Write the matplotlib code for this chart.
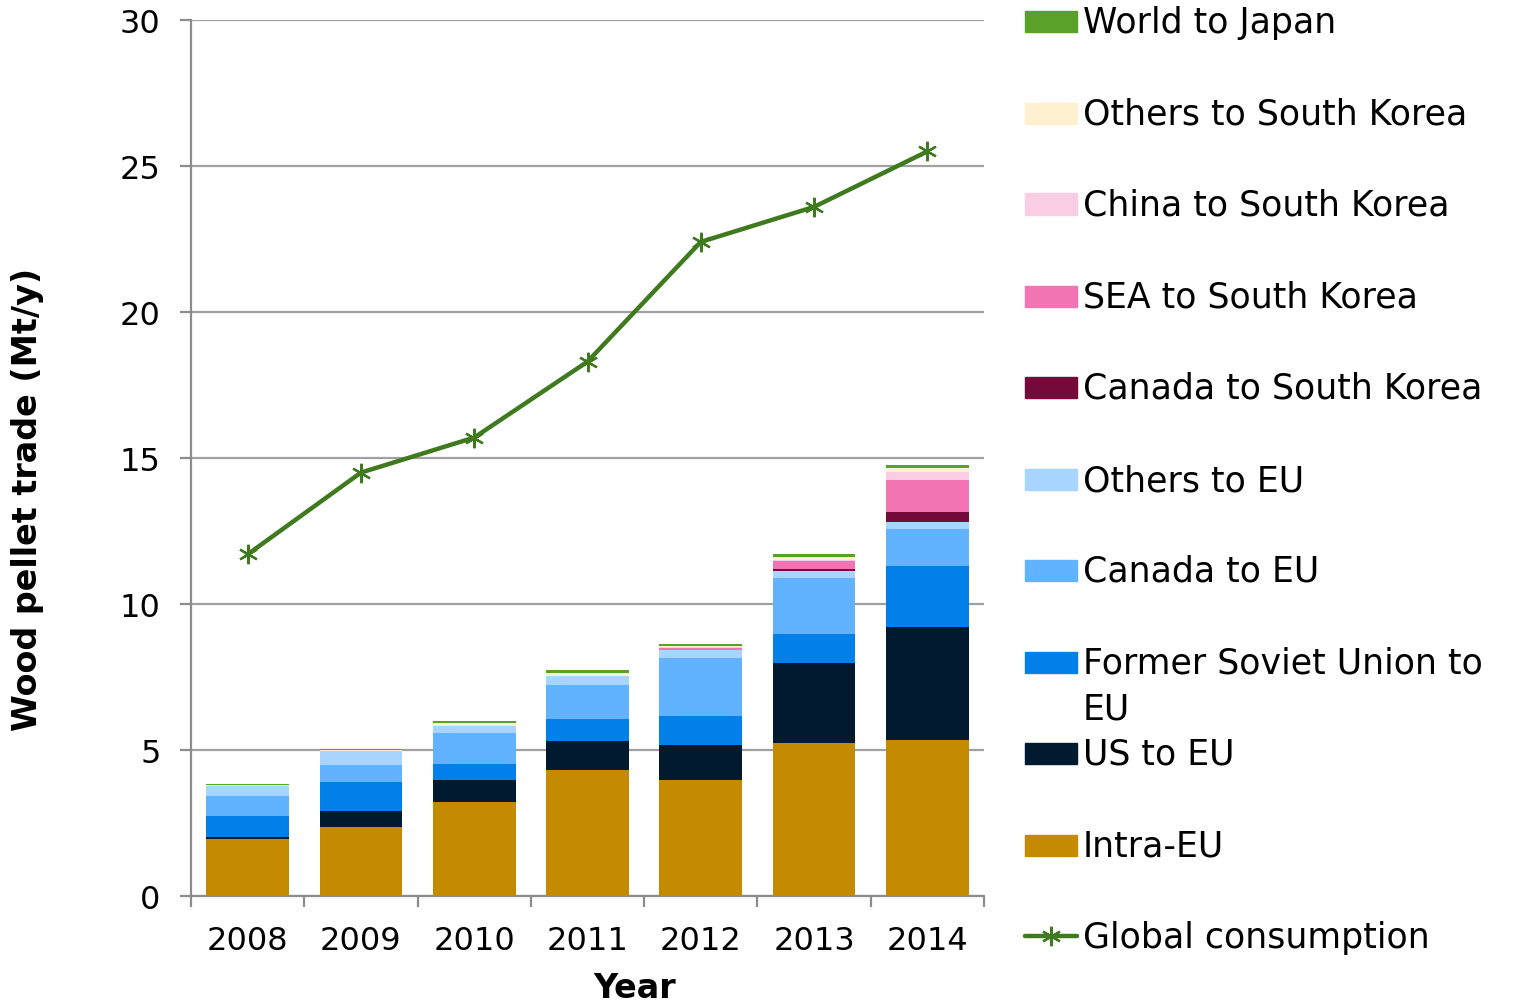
import matplotlib
matplotlib.use("Agg")
import matplotlib.pyplot as plt
from matplotlib.patches import Rectangle
from matplotlib.lines import Line2D
import numpy as np

plt.rcParams['font.family'] = ['DejaVu Sans']

years = ['2008', '2009', '2010', '2011', '2012', '2013', '2014']

intra_eu = [1.95, 2.36, 3.23, 4.32, 3.97, 5.24, 5.34]
us_eu = [0.08, 0.55, 0.75, 1.00, 1.20, 2.75, 3.88]
fsu_eu = [0.71, 1.00, 0.54, 0.74, 1.00, 0.99, 2.09]
canada_eu = [0.69, 0.58, 1.06, 1.15, 1.97, 1.91, 1.26]
others_eu = [0.34, 0.48, 0.24, 0.32, 0.28, 0.24, 0.25]
canada_sk = [0.0, 0.0, 0.0, 0.0, 0.01, 0.07, 0.34]
sea_sk = [0.0, 0.0, 0.0, 0.0, 0.08, 0.28, 1.09]
china_sk = [0.0, 0.0, 0.0, 0.0, 0.02, 0.02, 0.28]
others_sk = [0.03, 0.02, 0.10, 0.12, 0.03, 0.10, 0.13]
world_japan = [0.04, 0.04, 0.09, 0.10, 0.08, 0.12, 0.10]
global_consumption = [11.7, 14.5, 15.7, 18.3, 22.4, 23.6, 25.5]

series = [
    ('Intra-EU', intra_eu, '#C48B00'),
    ('US to EU', us_eu, '#021A30'),
    ('Former Soviet Union to\nEU', fsu_eu, '#0080E8'),
    ('Canada to EU', canada_eu, '#62B3FF'),
    ('Others to EU', others_eu, '#A8D5FF'),
    ('Canada to South Korea', canada_sk, '#740A3A'),
    ('SEA to South Korea', sea_sk, '#F374B2'),
    ('China to South Korea', china_sk, '#FBCDE4'),
    ('Others to South Korea', others_sk, '#FFF1CF'),
    ('World to Japan', world_japan, '#5AA12A'),
]
line_color = '#3F7A1E'

fig = plt.figure(figsize=(15.4, 10.03), dpi=100)
ax = fig.add_axes([191/1540, 1 - 897/1003, (984-191)/1540, (897-21)/1003])

x = np.arange(len(years))
bottom = np.zeros(len(years))
for name, vals, col in series:
    v = np.array(vals)
    ax.bar(x, v, width=0.73, bottom=bottom, color=col, linewidth=0, zorder=3)
    bottom += v

ax.plot(x, global_consumption, color=line_color, linewidth=3.2, marker=(6, 2, 0),
        markersize=14, markeredgewidth=1.6, markeredgecolor=line_color, zorder=4)

ax.set_xlim(-0.5, len(years) - 0.5)
ax.set_ylim(0, 30)
ax.set_yticks(np.arange(0, 31, 5))
ax.yaxis.grid(True, color='#A0A0A0', linewidth=1.6, zorder=0)
ax.set_axisbelow(True)
for s in ['top', 'right']:
    ax.spines[s].set_visible(False)
for s in ['left', 'bottom']:
    ax.spines[s].set_color('#8C8C8C')
    ax.spines[s].set_linewidth(1.6)

ax.tick_params(axis='y', length=8, width=1.6, color='#8C8C8C', pad=14, labelsize=23)
ax.set_xticks(x)
ax.set_xticklabels(years)
ax.tick_params(axis='x', which='major', length=0, pad=21, labelsize=23)
ax.set_xticks(np.arange(-0.5, len(years) + 0.5, 1), minor=True)
ax.tick_params(axis='x', which='minor', length=8, width=1.6, color='#8C8C8C')

fig.text(635/1540, 1 - 972/1003, 'Year', ha='center', va='top', fontsize=24, fontweight='bold')
fig.text(28/1540, 1 - 499/1003, 'Wood pellet trade (Mt/y)', ha='center', va='center',
         rotation=90, fontsize=24, fontweight='bold')

# Legend (manual)
legend_items = [
    ('World to Japan', '#5AA12A', 22),
    ('Others to South Korea', '#FFF1CF', 114),
    ('China to South Korea', '#FBCDE4', 205),
    ('SEA to South Korea', '#F374B2', 297),
    ('Canada to South Korea', '#740A3A', 388),
    ('Others to EU', '#A8D5FF', 480),
    ('Canada to EU', '#62B3FF', 571),
    ('Former Soviet Union to', '#0080E8', 663),
    ('US to EU', '#021A30', 754),
    ('Intra-EU', '#C48B00', 846),
]
W, H = 1540, 1003
LFS = 25
for label, col, yc in legend_items:
    fig.patches.append(Rectangle((1025/W, 1 - (yc + 10.5)/H), 52/W, 21/H,
                                 transform=fig.transFigure, color=col, figure=fig))
    fig.text(1083/W, 1 - (yc + 1)/H, label, ha='left', va='center', fontsize=LFS)
fig.text(1083/W, 1 - 710/H, 'EU', ha='left', va='center', fontsize=LFS)
yc = 937
fig.lines.append(Line2D([1025/W, 1077/W], [1 - yc/H, 1 - yc/H], transform=fig.transFigure,
                        color=line_color, linewidth=3.2, solid_capstyle='round', figure=fig))
fig.lines.append(Line2D([1051/W], [1 - yc/H], transform=fig.transFigure, color=line_color,
                        marker=(6, 2, 0), markersize=14, markeredgewidth=1.6, figure=fig))
fig.text(1083/W, 1 - (yc + 1)/H, 'Global consumption', ha='left', va='center', fontsize=LFS)

fig.savefig('out.png', dpi=100)
